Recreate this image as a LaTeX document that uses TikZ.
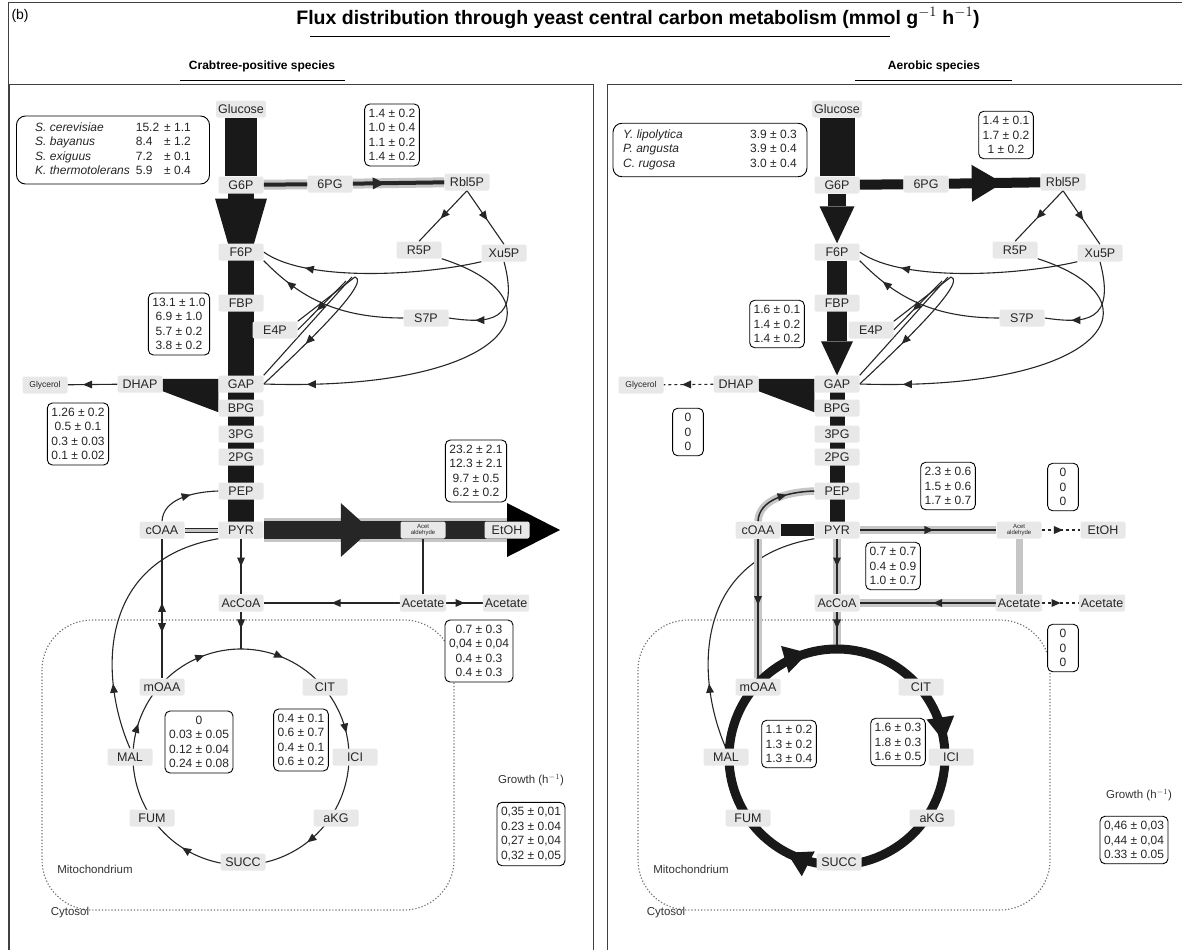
\documentclass[tikz,border=0pt]{standalone}
\usepackage{fontspec}
\setmainfont{Liberation Sans}
\usetikzlibrary{arrows.meta, decorations.markings, backgrounds}

\newcommand\metfnt{\fontsize{12.5}{13}\selectfont}
\newcommand\valfnt{\fontsize{12}{14.5}\selectfont}
\newcommand\aldfnt{\fontsize{6}{6.5}\selectfont}
\newcommand\glyfnt{\fontsize{8.5}{10}\selectfont}
\newcommand\labfnt{\fontsize{11.5}{13}\selectfont}
\newcommand\ttlfnt{\fontsize{19.5}{22}\selectfont\bfseries}
\newcommand\hdfnt{\fontsize{12}{14}\selectfont\bfseries}

\tikzset{
  met/.style={fill=gray!18, rounded corners=2pt, minimum width=45pt, minimum height=17pt, inner sep=2pt, text=black!85, font=\metfnt},
  valbox/.style={draw, rounded corners=5pt, fill=white, align=center, inner xsep=4pt, inner ysep=5pt, line width=0.9pt, text=black!85, font=\valfnt},
  link/.style={line width=1.1pt, black!85},
  halo/.style={line width=#1, black!85, preaction={draw, gray!45, line width=#1+6pt}},
  fatbar/.style={line width=#1, black!90},
  midarrow/.style={postaction={decorate, decoration={markings, mark=at position #1 with {\arrow{>}}}}},
  midarrow/.default=0.5,
  bighead/.style n args={3}{postaction={decorate, decoration={markings, mark=at position #1 with {\arrow{Triangle[length=#2, width=#3, line width=0pt]}}}}},
  smallring/.style={postaction={decorate, decoration={markings,
    mark=at position 0.133 with {\arrow{>}}, mark=at position 0.278 with {\arrow{>}},
    mark=at position 0.397 with {\arrow{>}}, mark=at position 0.547 with {\arrow{>}},
    mark=at position 0.728 with {\arrow{>}}, mark=at position 0.925 with {\arrow{>}}}}},
  bigring/.style={postaction={decorate, decoration={markings,
    mark=at position 0.29 with {\arrow{Triangle[length=24pt, width=28pt, line width=0pt]}},
    mark=at position 0.56 with {\arrow{Triangle[length=24pt, width=28pt, line width=0pt]}},
    mark=at position 0.91 with {\arrow{Triangle[length=24pt, width=28pt, line width=0pt]}}}}},
  mito/.style={dotted, line width=1.2pt, black!55, rounded corners=50pt},
  panelline/.style={line width=1pt, black!75},
}

\newcommand\metnodes{%
  \node[met] (Glc) at (241,-109) {Glucose};
  \node[met] (G6P) at (241,-185) {G6P};
  \node[met] (PG6) at (330,-184) {6PG};
  \node[met] (Rbl5P) at (467,-182) {Rbl5P};
  \node[met] (R5P) at (419,-250) {R5P};
  \node[met] (Xu5P) at (504,-253) {Xu5P};
  \node[met] (F6P) at (241,-252) {F6P};
  \node[met] (FBP) at (241,-303) {FBP};
  \node[met] (E4P) at (275,-330) {E4P};
  \node[met] (S7P) at (426,-318) {S7P};
  \node[met] (DHAP) at (140,-384) {DHAP};
  \node[met] (GAP) at (241,-384) {GAP};
  \node[met] (BPG) at (241,-408) {BPG};
  \node[met] (PG3) at (241,-434) {3PG};
  \node[met] (PG2) at (241,-457) {2PG};
  \node[met] (PEP) at (241,-491) {PEP};
  \node[met] (PYR) at (241,-530) {PYR};
  \node[met] (cOAA) at (162,-530) {cOAA};
  \node[met, font=\aldfnt, align=center, inner ysep=1pt] (Ald) at (423,-530) {Acet\\aldehyde};
  \node[met] (EtOH) at (507,-530) {EtOH};
  \node[met] (AcCoA) at (241,-603) {AcCoA};
  \node[met] (Ac) at (423,-603) {Acetate};
  \node[met] (Acx) at (506,-603) {Acetate};
  \node[met, font=\glyfnt] (Gly) at (45,-385) {Glycerol};
  \coordinate (tca) at (241,-757);
  \coordinate (tcatop) at (241,-649);
  \coordinate (tk) at (355,-277);
  \node[met] (mOAA) at (162,-687) {mOAA};
  \node[met] (CIT) at (325,-687) {CIT};
  \node[met] (ICI) at (355,-757) {ICI};
  \node[met] (aKG) at (336,-818) {aKG};
  \node[met] (SUCC) at (243,-862) {SUCC};
  \node[met] (FUM) at (152,-818) {FUM};
  \node[met] (MAL) at (130,-757) {MAL};
  \node[font=\labfnt, text=black!80] (mito) at (95,-869) {Mitochondrium};
  \node[font=\labfnt, text=black!80] (cyto) at (70,-913) {Cytosol};
}

\newcommand\pppnet{%
  \draw[link, midarrow=0.55] (Rbl5P.south) -- (R5P.north);
  \draw[link, midarrow=0.55] (Rbl5P.south) -- (Xu5P.north);
  \draw[link, midarrow=0.8] (Xu5P.south west) .. controls (420,-276) and (305,-282) .. (F6P.east);
  \draw[link, midarrow=0.8] (S7P.west) .. controls (330,-318) and (295,-292) .. (F6P.south east);
  \draw[link] (E4P.north east) -- (tk);
  \draw[link, midarrow=0.6] ([xshift=-9pt, yshift=-4pt]tk) -- (E4P.east);
  \draw[link] (GAP.north east) -- ([xshift=-3pt]tk);
  \draw[link, midarrow=0.6] (tk) .. controls (372,-282) and (300,-350) .. (GAP.east);
  \draw[link, midarrow=0.88] (R5P.south east) .. controls (570,-300) and (510,-392) .. (GAP.east);
  \draw[link, midarrow=0.75] (Xu5P.south) .. controls (520,-322) and (490,-324) .. (S7P.east);
  \draw[link, midarrow=0.25] (MAL.north) .. controls (100,-680) and (95,-560) .. (PYR.south west);
  \fill[black!90] ([yshift=-3.5pt]GAP.north west) -- ([yshift=-3.5pt]DHAP.north east)
    -- ([yshift=1.5pt]DHAP.south east) -- ([yshift=4.5pt]BPG.south west) -- cycle;
}

\begin{document}
\begin{tikzpicture}[x=1pt, y=1pt, >={Triangle[length=9pt, width=8pt, line width=0pt]}]
\useasboundingbox (0,0) rectangle (1182,-950);
\draw[panelline] (8,-950) -- (8,-3) -- (1182,-3);
\draw[panelline] (9,-950) -- (9,-84) -- (593,-84) -- (593,-950);
\draw[panelline] (607,-950) -- (607,-84) -- (1182,-84);
\node[anchor=west, font=\fontsize{14}{16}\selectfont] (tag) at (8,-16) {(b)};
\node[font=\ttlfnt] (title) at (638,-18) {Flux distribution through yeast central carbon metabolism (mmol g$^{-1}$ h$^{-1}$)};
\draw[line width=1pt] (310,-37) -- (890,-37);
\node[font=\hdfnt] (crab) at (262,-66) {Crabtree-positive species};
\draw[line width=1pt] (180,-80) -- (345,-80);
\node[font=\hdfnt] (aero) at (934,-66) {Aerobic species};
\draw[line width=1pt] (855,-80) -- (1012,-80);

\begin{scope}[name prefix=L-]
  \metnodes
  \coordinate (etip) at (560,-530);
  \node[valbox, rounded corners=9pt, minimum width=193pt] (spec) at (113,-150) {\begin{tabular}{@{}l@{\hspace{6pt}}l@{\hspace{5pt}}l@{}}
    \textit{S. cerevisiae} & 15.2 & ± 1.1\\ \textit{S. bayanus} & 8.4 & ± 1.2\\
    \textit{S. exiguus} & 7.2 & ± 0.1\\ \textit{K. thermotolerans} & 5.9 & ± 0.4\end{tabular}};
  \node[valbox] (ppp) at (392,-135) {1.4 ± 0.2\\1.0 ± 0.4\\1.1 ± 0.2\\1.4 ± 0.2};
  \node[valbox] (glyc) at (179,-324) {13.1 ± 1.0\\6.9 ± 1.0\\5.7 ± 0.2\\3.8 ± 0.2};
  \node[valbox] (gly) at (78,-434) {1.26 ± 0.2\\0.5 ± 0.1\\0.3 ± 0.03\\0.1 ± 0.02};
  \node[valbox] (etoh) at (476,-471) {23.2 ± 2.1\\12.3 ± 2.1\\9.7 ± 0.5\\6.2 ± 0.2};
  \node[valbox] (acet) at (479,-651) {0.7 ± 0.3\\0,04 ± 0,04\\0.4 ± 0.3\\0.4 ± 0.3};
  \node[valbox] (tcal) at (199,-742) {0\\0.03 ± 0.05\\0.12 ± 0.04\\0.24 ± 0.08};
  \node[valbox] (tcar) at (301,-740) {0.4 ± 0.1\\0.6 ± 0.7\\0.4 ± 0.1\\0.6 ± 0.2};
  \node[font=\labfnt, text=black!80] (grl) at (531,-780) {Growth (h$^{-1}$)};
  \node[valbox] (gr) at (531,-834) {0,35 ± 0,01\\0.23 ± 0.04\\0,27 ± 0,04\\0,32 ± 0,05};
  \begin{pgfonlayer}{background}
    \draw[mito] (42,-620) rectangle (454,-910);
    \pppnet
    \draw[fatbar=32pt] (Glc) -- (G6P);
    \draw[fatbar=26pt, bighead={0.3}{90pt}{52pt}] (G6P.center) -- (PYR.center);
    \draw[halo=4pt] (G6P) -- (PG6);
    \draw[halo=4pt, bighead={0.35}{12pt}{12pt}] (PG6) -- (Rbl5P);
    \draw[link, midarrow=0.69] (DHAP) -- (Gly);
    \draw[halo=18pt, bighead={0.44}{30pt}{54pt}] (PYR.east) -- (EtOH.center);
    \draw[line width=0pt, -{Triangle[length=53pt, width=54pt, line width=0pt]}] (EtOH.center) -- (etip);
    \draw[link, midarrow] (PYR) -- (AcCoA);
    \draw[link] (Ald) -- (Ac);
    \draw[link, midarrow] (Ac) -- (AcCoA);
    \draw[link, midarrow] (Ac) -- (Acx);
    \draw[link, midarrow=0.45] (AcCoA) -- (tcatop);
    \draw[double=gray!45, double distance=3pt, line width=1pt, black!85] (PYR) -- (cOAA);
    \draw[link, midarrow=0.6] (cOAA.north) .. controls (163,-500) and (190,-492) .. (PEP.west);
    \draw[link, postaction={decorate, decoration={markings, mark=at position 0.46 with {\arrowreversed{>}}, mark=at position 0.67 with {\arrow{>}}}}] (cOAA) -- (mOAA);
    \draw[link, smallring] (tca) ++(-150:108) arc[start angle=-150, end angle=-510, radius=108];
  \end{pgfonlayer}
\end{scope}

\begin{scope}[xshift=596pt, name prefix=R-]
  \metnodes
  \node[valbox, rounded corners=9pt, minimum width=194pt] (spec) at (114,-150) {\begin{tabular}{@{}p{115pt}l@{}}
    \textit{Y. lipolytica} & 3.9 ± 0.3\\ \textit{P. angusta} & 3.9 ± 0.4\\ \textit{C. rugosa} & 3.0 ± 0.4\end{tabular}};
  \node[valbox] (ppp) at (410,-135) {1.4 ± 0.1\\1.7 ± 0.2\\1 ± 0.2};
  \node[valbox] (glyc) at (181,-324) {1.6 ± 0.1\\1.4 ± 0.2\\1.4 ± 0.2};
  \node[valbox, inner xsep=12pt] (gly) at (92,-432) {0\\0\\0};
  \node[valbox] (pyrald) at (352,-486) {2.3 ± 0.6\\1.5 ± 0.6\\1.7 ± 0.7};
  \node[valbox, inner xsep=12pt] (etoh) at (467,-487) {0\\0\\0};
  \node[valbox] (pdh) at (297,-566) {0.7 ± 0.7\\0.4 ± 0.9\\1.0 ± 0.7};
  \node[valbox, inner xsep=12pt] (acet) at (467,-648) {0\\0\\0};
  \node[valbox] (tcal) at (193,-744) {1.1 ± 0.2\\1.3 ± 0.2\\1.3 ± 0.4};
  \node[valbox] (tcar) at (302,-742) {1.6 ± 0.3\\1.8 ± 0.3\\1.6 ± 0.5};
  \node[font=\labfnt, text=black!80] (grl) at (543,-795) {Growth (h$^{-1}$)};
  \node[valbox] (gr) at (538,-840) {0,46 ± 0,03\\0,44 ± 0,04\\0.33 ± 0.05};
  \begin{pgfonlayer}{background}
    \draw[mito] (42,-620) rectangle (454,-910);
    \pppnet
    \draw[fatbar=35pt] (Glc) -- (G6P);
    \draw[fatbar=18pt, -{Triangle[length=37pt, width=35pt, line width=0pt]}] (G6P.south) -- (F6P.north);
    \draw[fatbar=20pt, -{Triangle[length=34pt, width=32pt, line width=0pt]}] (F6P.south) -- (GAP.north);
    \draw[fatbar=15pt] (GAP.center) -- (PYR.center);
    \draw[fatbar=10pt] (G6P) -- (PG6);
    \draw[fatbar=10pt, bighead={0.59}{31pt}{37pt}] (PG6) -- (Rbl5P);
    \draw[link, dashed, midarrow=0.63] (DHAP) -- (Gly);
    \draw[fatbar=12pt] (PYR) -- (cOAA);
    \draw[halo=1.5pt, midarrow=0.6] (cOAA.north) .. controls (163,-500) and (190,-492) .. (PEP.west);
    \draw[halo=1.5pt, midarrow=0.475] (cOAA) -- (mOAA);
    \draw[halo=2.5pt, midarrow=0.54] (PYR) -- (Ald);
    \draw[link, dashed, midarrow=0.55] (Ald) -- (EtOH);
    \draw[gray!45, line width=7pt] (Ald) -- (Ac);
    \draw[halo=2.5pt, midarrow=0.46] (Ac) -- (AcCoA);
    \draw[link, dashed, midarrow] (Ac) -- (Acx);
    \draw[halo=2.5pt, midarrow] (PYR) -- (AcCoA);
    \draw[halo=2.5pt, midarrow=0.45] (AcCoA) -- (tcatop);
    \draw[fatbar=9pt, bigring] (tca) ++(-150:108) arc[start angle=-150, end angle=-510, radius=108];
  \end{pgfonlayer}
\end{scope}
\end{tikzpicture}
\end{document}
